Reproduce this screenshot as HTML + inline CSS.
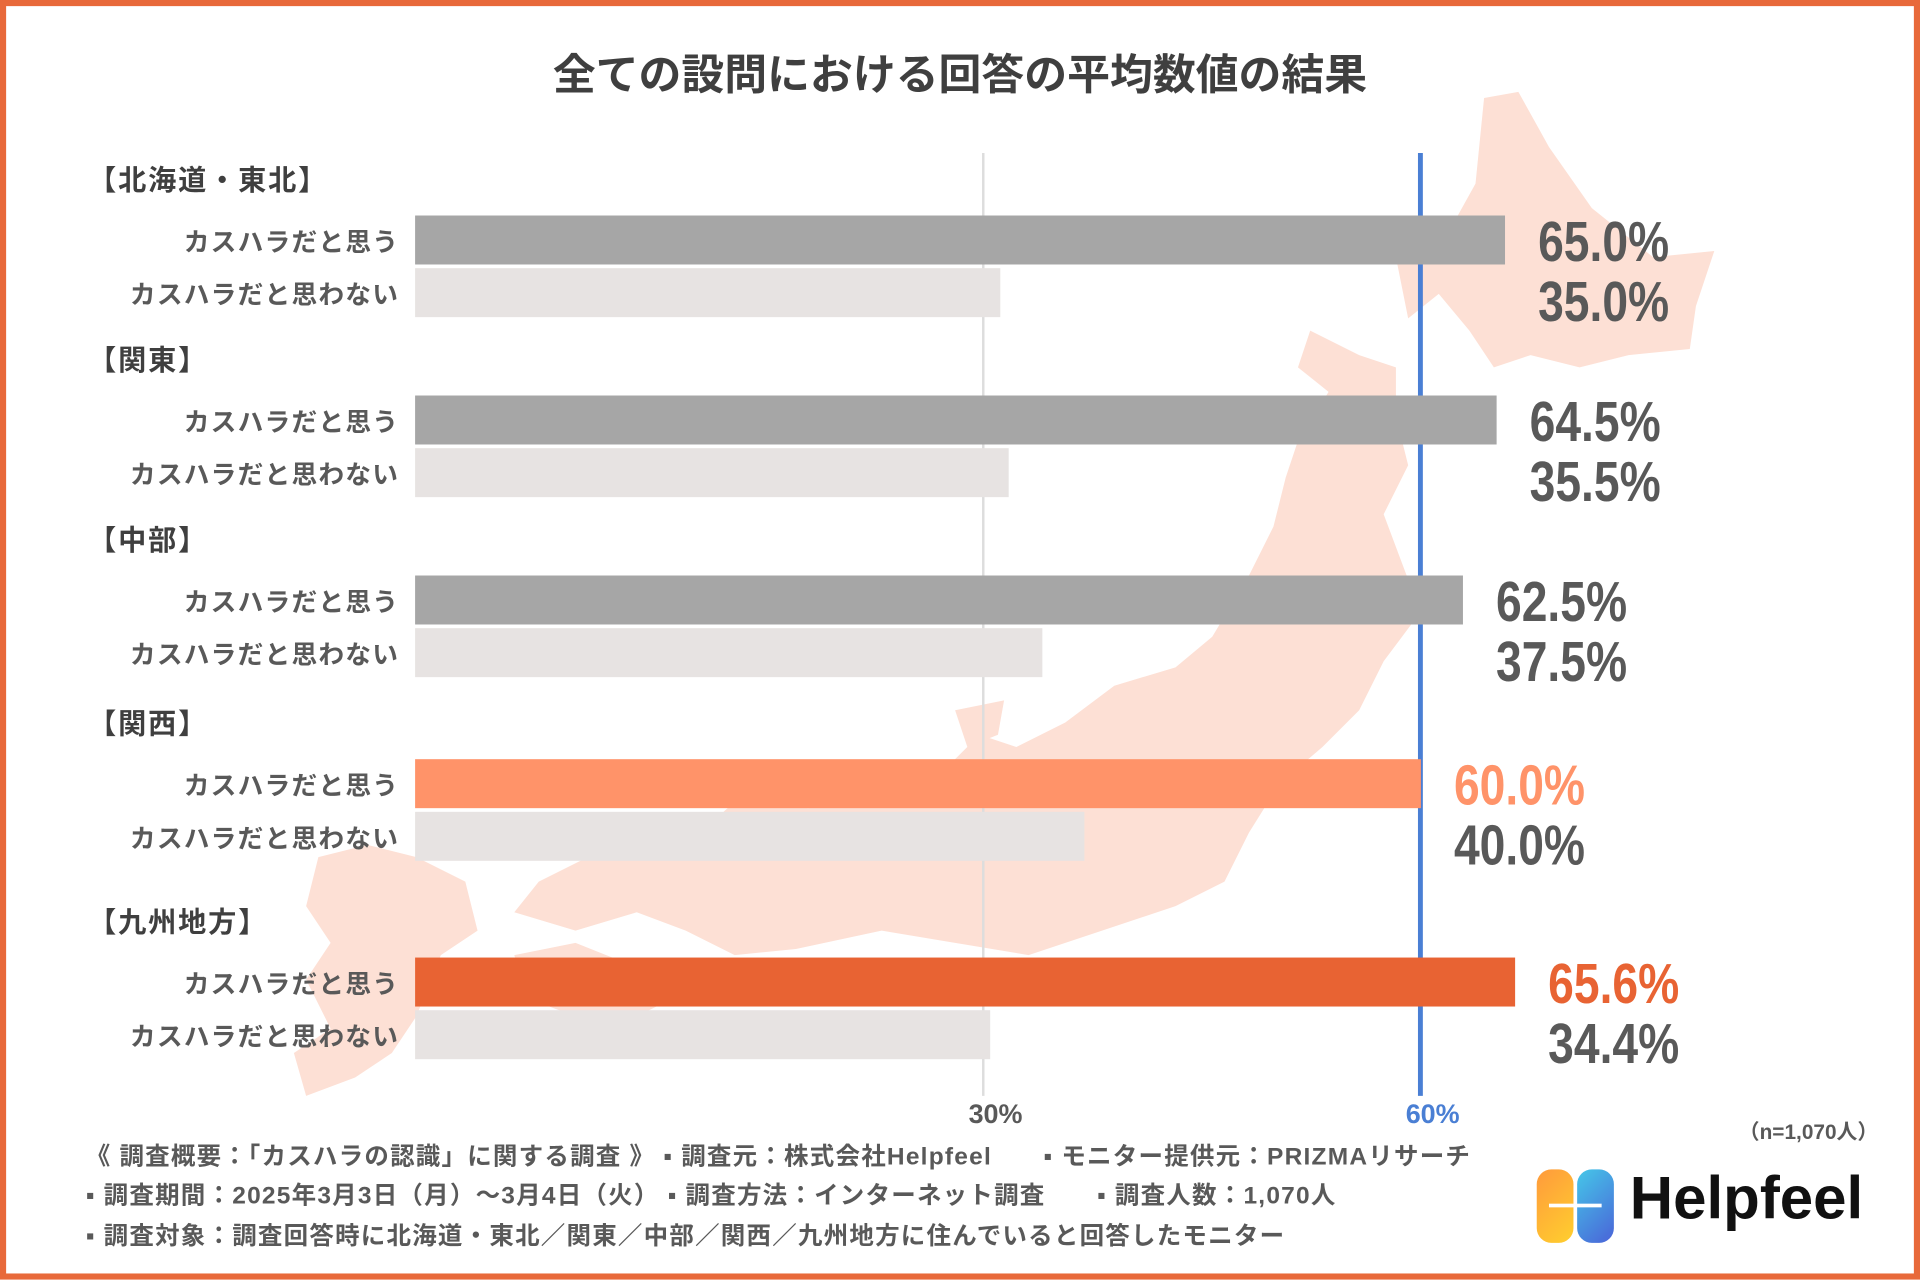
<!DOCTYPE html>
<html><head><meta charset="utf-8">
<style>
html,body{margin:0;padding:0;width:1920px;height:1280px;overflow:hidden;background:#fff}
#wrap{position:absolute;left:0;top:0;width:1568px;height:1045px;transform:scale(1.22449);transform-origin:0 0;font-family:"Liberation Sans","Noto Sans CJK JP",sans-serif;color:#595959}
.frame{position:absolute;left:0;top:0;width:1558px;height:1035px;border:5px solid #e8693a}
.t{position:absolute;white-space:nowrap}
</style></head><body>
<div id="wrap">
<svg id="bg" width="1568" height="1045" style="position:absolute;left:0;top:0">
 <g fill="#fde0d5">
  <path d="M1212,80 L1240,75 L1265,120 L1300,170 L1350,210 L1400,205 L1385,250 L1380,285 L1330,290 L1290,300 L1250,290 L1220,300 L1200,270 L1175,240 L1150,260 L1140,210 L1180,195 L1205,150 Z"/>
  <path d="M1140,300 L1110,290 L1070,270 L1060,300 L1085,320 L1060,360 L1050,390 L1040,430 L1020,470 L990,520 L960,545 L910,560 L870,590 L830,610 L800,600 L780,620 L760,630 L720,650 L660,660 L600,655 L560,690 L520,700 L480,700 L440,720 L420,745 L470,760 L520,745 L560,760 L600,780 L650,775 L720,760 L780,770 L840,780 L900,760 L960,740 L1000,720 L1020,680 L1045,640 L1080,610 L1110,580 L1130,540 L1160,500 L1145,460 L1130,420 L1150,380 L1140,340 Z"/>
  <path d="M340,700 L300,690 L260,700 L250,740 L270,770 L250,800 L270,840 L240,860 L250,895 L290,880 L320,860 L340,830 L360,780 L390,760 L380,720 Z"/>
  <path d="M420,780 L470,770 L520,790 L560,810 L520,830 L470,830 L430,815 Z"/>
  <path d="M780,580 L820,572 L815,600 L790,610 Z"/>
 </g>
</svg>
<div class="frame"></div>
<div class="t" style="left:0;width:1568px;text-align:center;top:33px;font-size:35px;font-weight:bold;color:#3f3f3f">全ての設問における回答の平均数値の結果</div>
<svg id="chart" width="1568" height="1045" style="position:absolute;left:0;top:0"></svg>
<div class="t" style="left:1420px;top:910px;font-size:17px;font-weight:bold">（n=1,070人）</div>
<div class="t" style="left:70px;top:928px;font-size:20px;font-weight:bold;letter-spacing:1px">《 調査概要：「カスハラの認識」に関する調査 》 ▪ 調査元：株式会社Helpfeel　　▪ モニター提供元：PRIZMAリサーチ</div>
<div class="t" style="left:70px;top:960px;font-size:20px;font-weight:bold;letter-spacing:1px">▪ 調査期間：2025年3月3日（月）〜3月4日（火） ▪ 調査方法：インターネット調査　　▪ 調査人数：1,070人</div>
<div class="t" style="left:70px;top:993px;font-size:20px;font-weight:bold;letter-spacing:1px">▪ 調査対象：調査回答時に北海道・東北／関東／中部／関西／九州地方に住んでいると回答したモニター</div>
<div style="position:absolute;left:1255px;top:955px">
 <div style="position:absolute;left:0;top:0;width:30px;height:60px;border-radius:12px;background:linear-gradient(135deg,#ff9a3c,#ffcf2e)"></div>
 <div style="position:absolute;left:33px;top:0;width:30px;height:60px;border-radius:12px;background:linear-gradient(135deg,#45c7e8,#4a63d8)"></div>
 <div style="position:absolute;left:10px;top:28px;width:43px;height:3px;background:#fff"></div>
 <div class="t" style="left:76px;top:-4px;font-size:49px;font-weight:bold;color:#111">Helpfeel</div>
</div>
</div>
<script>
const groups=['【北海道・東北】','【関東】','【中部】','【関西】','【九州地方】'];
const agree=[65.0,64.5,62.5,60.0,65.6];
const disagree=[35.0,35.5,37.5,40.0,34.4];
const agreeColors=['#a6a6a6','#a6a6a6','#a6a6a6','#ff9369','#e86333'];
const labelColors=['#595959','#595959','#595959','#ff9369','#e86333'];
const ticks=[30,60];
const NS='http://www.w3.org/2000/svg';
const svg=document.getElementById('chart');
const x0=336,pxPer=13.74;
function x(v){return x0+v*pxPer;}
const groupTop=[176,323,470,620,782];
function mk(tag,attrs){const e=document.createElementNS(NS,tag);for(const k in attrs)e.setAttribute(k,attrs[k]);svg.appendChild(e);return e;}
const gridPos={30:803,60:1160};
ticks.forEach(t=>{
 const blue=t===60;
 const l=mk('line',{x1:gridPos[t],x2:gridPos[t],y1:125,y2:895,stroke:blue?'#4a7fd4':'#dddddd','stroke-width':blue?4:2});
 
 
 const tx=mk('text',{x:gridPos[t]+10,y:917,'text-anchor':'middle','font-size':22,'font-weight':'bold',fill:blue?'#4a7fd4':'#595959','font-family':'Liberation Sans, Noto Sans CJK JP, sans-serif'});
 tx.textContent=t+'%';
 
 
});
groups.forEach((g,i)=>{
 const y=groupTop[i];
 const ff='Liberation Sans, Noto Sans CJK JP, sans-serif';
 const h=mk('text',{x:72,y:y-21,'font-size':23,'font-weight':'bold',fill:'#3f3f3f','font-family':ff,'letter-spacing':1.5});
 h.textContent=g;
 
 
 const b1=mk('rect',{x:339,y:y,width:x(agree[i])-339,height:40,fill:agreeColors[i]});
 
 
 const b2=mk('rect',{x:339,y:y+43,width:x(disagree[i])-339,height:40,fill:'#e7e3e2'});
 
 
 const l1=mk('text',{x:326,y:y+29,'text-anchor':'end','font-size':21,'font-weight':'bold',fill:'#595959','font-family':ff,'letter-spacing':1});
 l1.textContent='カスハラだと思う';
 
 
 const l2=mk('text',{x:326,y:y+72,'text-anchor':'end','font-size':21,'font-weight':'bold',fill:'#595959','font-family':ff,'letter-spacing':1});
 l2.textContent='カスハラだと思わない';
 
 
 const vx=x(agree[i])+27;
 const v1=mk('text',{x:vx,y:y+37,'font-size':46,'font-weight':'bold',fill:labelColors[i],'font-family':ff,'textLength':107,'lengthAdjust':'spacingAndGlyphs'});
 v1.textContent=agree[i].toFixed(1)+'%';
 
 
 const v2=mk('text',{x:vx,y:y+86,'font-size':46,'font-weight':'bold',fill:'#595959','font-family':ff,'textLength':107,'lengthAdjust':'spacingAndGlyphs'});
 v2.textContent=disagree[i].toFixed(1)+'%';
 
 
});
</script>
</body></html>
